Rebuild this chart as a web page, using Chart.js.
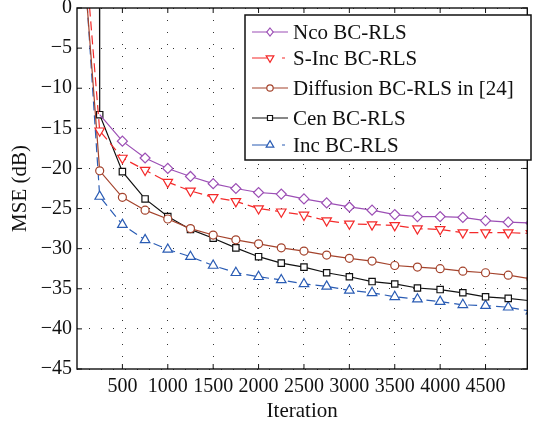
<!DOCTYPE html>
<html>
<head>
<meta charset="utf-8">
<script src="https://cdn.jsdelivr.net/npm/chart.js@4.4.1/dist/chart.umd.min.js"></script>
<style>
  html, body { margin: 0; padding: 0; background: #fff; }
  #wrap { width: 534px; height: 426px; }
</style>
</head>
<body>
<div id="wrap"><canvas id="mseChart" width="534" height="426"></canvas></div>
<script>
// iterations where the markers sit
var iterations = [250, 500, 750, 1000, 1250, 1500, 1750, 2000, 2250, 2500,
                  2750, 3000, 3250, 3500, 3750, 4000, 4250, 4500, 4750, 5000];

// MSE (dB)
var ncoMse  = [-13.3, -16.6, -18.7, -20.0, -21.0, -21.9, -22.5, -23.0, -23.2, -23.8,
               -24.3, -24.8, -25.2, -25.75, -26.0, -26.0, -26.1, -26.5, -26.7, -26.8];
var sIncMse = [-15.3, -18.7, -20.2, -21.7, -22.8, -23.6, -24.1, -25.0, -25.4, -25.8,
               -26.5, -26.9, -27.0, -27.1, -27.5, -27.6, -28.0, -28.0, -28.0, -28.1];
var diffMse = [-20.3, -23.6, -25.2, -26.3, -27.5, -28.3, -28.9, -29.4, -29.9, -30.3,
               -30.8, -31.2, -31.55, -32.1, -32.3, -32.5, -32.8, -33.0, -33.3, -33.75];
var cenMse  = [-13.3, -20.4, -23.8, -26.0, -27.6, -28.7, -29.9, -31.0, -31.8, -32.3,
               -33.0, -33.5, -34.1, -34.4, -34.9, -35.1, -35.5, -36.0, -36.2, -36.5];
var incMse  = [-23.5, -27.0, -28.9, -30.1, -31.0, -32.1, -33.0, -33.5, -33.9, -34.4,
               -34.7, -35.2, -35.5, -36.0, -36.3, -36.6, -37.0, -37.1, -37.3, -37.8];

// first (unmarked) samples, above the top of the axis: [iteration, MSE]
var sIncStart = [0, 19.2];
var diffStart = [0, 17.0];
var cenStart  = [245, 20];
var incStart  = [0, 19.7];

var seriesNames = ['Nco BC-RLS', 'S-Inc BC-RLS', 'Diffusion BC-RLS in [24]', 'Cen BC-RLS', 'Inc BC-RLS'];
var xTicks = [500, 1000, 1500, 2000, 2500, 3000, 3500, 4000, 4500];
var yTicks = [0, -5, -10, -15, -20, -25, -30, -35, -40, -45];

var serif = "'Liberation Serif', 'Times New Roman', serif";

function makePoints(start, values) {
    var pts = [];
    if (start) pts.push({ x: start[0], y: start[1] });
    values.forEach(function(v, i) {
        pts.push({ x: iterations[i], y: v });
    });
    return pts;
}

// radius 0 for the leading unmarked sample
function radii(hasStart, r, firstHidden) {
    var out = [];
    if (hasStart) out.push(0);
    for (var i = 0; i < iterations.length; i++) out.push(r);
    if (firstHidden) out[0] = 0;
    return out;
}

var styles = [
    { color: '#9c4fb5', dash: [],     point: 'rectRot',  rot: 0,   r: 5 },
    { color: '#f42a2a', dash: [9, 5], point: 'triangle', rot: 180, r: 5.5 },
    { color: '#a4432c', dash: [],     point: 'circle',   rot: 0,   r: 4 },
    { color: '#111111', dash: [],     point: 'rect',     rot: 0,   r: 4.5 },
    { color: '#2a5cb4', dash: [9, 5], point: 'triangle', rot: 0,   r: 5.5 }
];

function dataset(i, pts, rad) {
    var s = styles[i];
    return {
        label: seriesNames[i],
        data: pts,
        borderColor: s.color,
        backgroundColor: '#ffffff',
        borderWidth: 1.2,
        borderDash: s.dash,
        pointStyle: s.point,
        rotation: s.rot,
        pointRadius: rad,
        pointBorderWidth: 1.2,
        pointBorderColor: s.color,
        pointBackgroundColor: '#ffffff',
        tension: 0,
        fill: false
    };
}

var datasets = [
    dataset(0, makePoints(null, ncoMse), radii(false, styles[0].r, true)),
    dataset(1, makePoints(sIncStart, sIncMse), radii(true, styles[1].r)),
    dataset(2, makePoints(diffStart, diffMse), radii(true, styles[2].r)),
    dataset(3, makePoints(cenStart, cenMse), radii(true, styles[3].r)),
    dataset(4, makePoints(incStart, incMse), radii(true, styles[4].r))
];

// draw one marker shape by hand (legend)
function drawMarker(ctx, style, x, y, r) {
    ctx.beginPath();
    if (style.point === 'rectRot') {
        ctx.moveTo(x, y - r); ctx.lineTo(x + r * 0.8, y); ctx.lineTo(x, y + r); ctx.lineTo(x - r * 0.8, y);
        ctx.closePath();
    } else if (style.point === 'triangle') {
        var d = style.rot === 180 ? -1 : 1;
        ctx.moveTo(x, y - d * r);
        ctx.lineTo(x + r * 0.87, y + d * r * 0.5);
        ctx.lineTo(x - r * 0.87, y + d * r * 0.5);
        ctx.closePath();
    } else if (style.point === 'circle') {
        ctx.arc(x, y, r, 0, Math.PI * 2);
    } else {
        ctx.rect(x - r * 0.7, y - r * 0.7, r * 1.4, r * 1.4);
    }
    ctx.fillStyle = '#fff';
    ctx.fill();
    ctx.stroke();
}

var framePlugin = {
    id: 'frameAndLegend',
    afterDraw: function(chart) {
        var ctx = chart.ctx;
        var a = chart.chartArea;
        var xs = chart.scales.x, ys = chart.scales.y;
        ctx.save();
        ctx.strokeStyle = '#111';
        ctx.lineWidth = 1.4;
        ctx.setLineDash([]);
        ctx.strokeRect(a.left, a.top, a.right - a.left, a.bottom - a.top);

        // inward tick marks, matlab style
        ctx.lineWidth = 1;
        ctx.beginPath();
        xTicks.forEach(function(v) {
            var px = xs.getPixelForValue(v);
            ctx.moveTo(px, a.top); ctx.lineTo(px, a.top + 5);
            ctx.moveTo(px, a.bottom); ctx.lineTo(px, a.bottom - 5);
        });
        yTicks.forEach(function(v) {
            var py = ys.getPixelForValue(v);
            ctx.moveTo(a.left, py); ctx.lineTo(a.left + 5, py);
            ctx.moveTo(a.right, py); ctx.lineTo(a.right - 5, py);
        });
        ctx.stroke();

        // legend box
        var bx = 245, by = 15, bw = 286, bh = 145;
        ctx.fillStyle = '#fff';
        ctx.fillRect(bx, by, bw, bh);
        ctx.lineWidth = 1.5;
        ctx.strokeStyle = '#111';
        ctx.strokeRect(bx, by, bw, bh);

        var rowY = [32, 58, 88, 118, 145];
        ctx.font = '21px ' + serif;
        ctx.textBaseline = 'middle';
        ctx.textAlign = 'left';
        for (var i = 0; i < seriesNames.length; i++) {
            var s = styles[i];
            var y = rowY[i];
            ctx.strokeStyle = s.color;
            ctx.lineWidth = 1.2;
            ctx.setLineDash(s.dash.length ? [21, 9, 3, 20] : []);
            ctx.beginPath();
            ctx.moveTo(252, y); ctx.lineTo(288, y);
            ctx.stroke();
            ctx.setLineDash([]);
            drawMarker(ctx, s, 270, y, s.r * 0.8);
            ctx.fillStyle = '#111';
            ctx.fillText(seriesNames[i], 293, y + 1);
        }
        ctx.restore();
    }
};

var ctx = document.getElementById('mseChart');
var mseChart = new Chart(ctx, {
    type: 'line',
    data: { datasets: datasets },
    options: {
        responsive: false,
        animation: false,
        devicePixelRatio: 1,
        layout: { padding: { top: 8, right: 1, left: 0, bottom: 0 } },
        plugins: {
            legend: { display: false },
            tooltip: { enabled: false }
        },
        scales: {
            x: {
                type: 'linear',
                min: 0,
                max: 4960,
                afterBuildTicks: function(scale) {
                    scale.ticks = xTicks.map(function(v) { return { value: v }; });
                },
                ticks: {
                    maxRotation: 0,
                    autoSkip: false,
                    padding: 6,
                    color: '#111',
                    font: { family: serif, size: 20 },
                    callback: function(v) { return String(v); }
                },
                grid: { color: '#333', lineWidth: 1, drawTicks: false },
                border: { display: false, dash: [1, 11] },
                title: {
                    display: true,
                    text: 'Iteration',
                    color: '#111',
                    font: { family: serif, size: 21 },
                    padding: { top: 0, bottom: 2 }
                },
                afterFit: function(scale) {
                    scale.height = 57;
                    scale.paddingLeft = 0;
                    scale.paddingRight = 0;
                }
            },
            y: {
                type: 'linear',
                min: -45,
                max: 0,
                afterBuildTicks: function(scale) {
                    scale.ticks = yTicks.map(function(v) { return { value: v }; });
                },
                ticks: {
                    padding: 5,
                    color: '#111',
                    font: { family: serif, size: 20 },
                    callback: function(v) {
                        return v === 0 ? '0' : '\u2212' + Math.abs(v);
                    }
                },
                grid: { color: '#333', lineWidth: 1, drawTicks: false },
                border: { display: false, dash: [1, 11] },
                title: {
                    display: true,
                    text: 'MSE (dB)',
                    color: '#111',
                    font: { family: serif, size: 21 },
                    padding: { top: 8, bottom: 0 }
                },
                afterFit: function(scale) {
                    scale.width = 77;
                    scale.paddingTop = 0;
                    scale.paddingBottom = 0;
                }
            }
        }
    },
    plugins: [framePlugin]
});
</script>
</body>
</html>
